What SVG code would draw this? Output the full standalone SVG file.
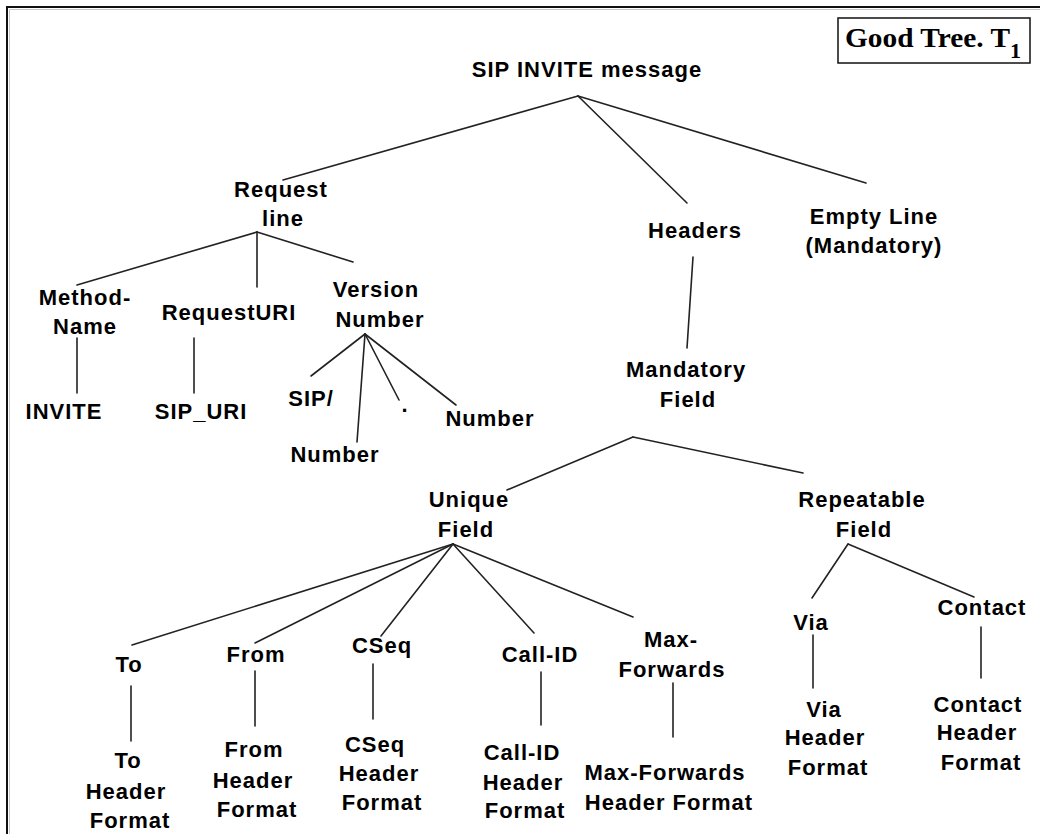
<svg xmlns="http://www.w3.org/2000/svg" width="1040" height="834" viewBox="0 0 1040 834">
  <style>
    .t { font-family: "Liberation Sans", Arial, sans-serif; font-weight: bold; font-size: 22px; letter-spacing: 1px; text-anchor: middle; fill: #000; }
    .e { stroke: #222; stroke-width: 1.6; fill: none; stroke-linecap: round; }
    .frame { stroke: #111; stroke-width: 2; fill: none; }
    .title { font-family: "Liberation Serif", "Times New Roman", serif; font-weight: bold; fill: #000; }
  </style>
  <rect width="1040" height="834" fill="#fff"/>

  <!-- outer frame: top and left edges only -->
  <g id="frame">
    <polyline class="frame" points="7,834 7,7 1040,7"/>
    <polyline points="9.5,834 9.5,9.5 1040,9.5" stroke="#c8c8c8" stroke-width="1" fill="none"/>
  </g>

  <!-- caption box -->
  <g id="caption">
    <rect x="838" y="18" width="192" height="45" fill="none" stroke="#111" stroke-width="1.5"/>
    <text class="title" x="845" y="47" font-size="28" textLength="165" lengthAdjust="spacingAndGlyphs">Good Tree. T</text>
    <text class="title" x="1010" y="58" font-size="22">1</text>
  </g>

  <!-- tree edges -->
  <g id="connectors">
    <line class="e" x1="578" y1="96" x2="283" y2="180"/>
    <line class="e" x1="578" y1="96" x2="687" y2="203"/>
    <line class="e" x1="578" y1="96" x2="866" y2="183"/>

    <line class="e" x1="257" y1="232" x2="77" y2="285"/>
    <line class="e" x1="257" y1="232" x2="257" y2="287"/>
    <line class="e" x1="257" y1="232" x2="353" y2="262"/>

    <line class="e" x1="77" y1="338" x2="77" y2="393"/>
    <line class="e" x1="194" y1="338" x2="194" y2="393"/>

    <line class="e" x1="365" y1="334" x2="311" y2="376"/>
    <line class="e" x1="365" y1="334" x2="357" y2="442"/>
    <line class="e" x1="365" y1="334" x2="399" y2="400"/>
    <line class="e" x1="365" y1="334" x2="456" y2="405"/>

    <line class="e" x1="693" y1="257" x2="687" y2="348"/>

    <line class="e" x1="633" y1="437" x2="507" y2="490"/>
    <line class="e" x1="633" y1="437" x2="803" y2="473"/>

    <line class="e" x1="453" y1="544" x2="132" y2="645"/>
    <line class="e" x1="453" y1="544" x2="255" y2="643"/>
    <line class="e" x1="453" y1="544" x2="381" y2="636"/>
    <line class="e" x1="453" y1="544" x2="534" y2="633"/>
    <line class="e" x1="453" y1="544" x2="633" y2="617"/>

    <line class="e" x1="848" y1="544" x2="812" y2="598"/>
    <line class="e" x1="848" y1="544" x2="974" y2="597"/>

    <line class="e" x1="131" y1="686" x2="131" y2="741"/>
    <line class="e" x1="255" y1="671" x2="255" y2="726"/>
    <line class="e" x1="373" y1="664" x2="373" y2="719"/>
    <line class="e" x1="541" y1="672" x2="541" y2="725"/>
    <line class="e" x1="673" y1="683" x2="673" y2="737"/>
    <line class="e" x1="813" y1="635" x2="813" y2="688"/>
    <line class="e" x1="981" y1="627" x2="981" y2="678"/>
  </g>

  <!-- nodes -->
  <g id="sip-invite"><text class="t" x="587" y="77">SIP INVITE message</text></g>
  <g id="request-line"><text class="t" x="281" y="197">Request</text><text class="t" x="283" y="226">line</text></g>
  <g id="headers"><text class="t" x="695" y="238">Headers</text></g>
  <g id="empty-line"><text class="t" x="874" y="224">Empty Line</text><text class="t" x="874" y="253">(Mandatory)</text></g>

  <g id="method-name"><text class="t" x="85" y="305">Method-</text><text class="t" x="85" y="334">Name</text></g>
  <g id="request-uri"><text class="t" x="229" y="320">RequestURI</text></g>
  <g id="version-number"><text class="t" x="376" y="297">Version</text><text class="t" x="380" y="327">Number</text></g>

  <g id="invite"><text class="t" x="64" y="419">INVITE</text></g>
  <g id="sip-uri"><text class="t" x="201" y="419">SIP_URI</text></g>
  <g id="sip-slash"><text class="t" x="311" y="406">SIP/</text></g>
  <g id="major-number"><text class="t" x="335" y="462">Number</text></g>
  <g id="dot"><text class="t" x="405" y="412">.</text></g>
  <g id="minor-number"><text class="t" x="490" y="426">Number</text></g>

  <g id="mandatory-field"><text class="t" x="686" y="377">Mandatory</text><text class="t" x="688" y="407">Field</text></g>
  <g id="unique-field"><text class="t" x="469" y="507">Unique</text><text class="t" x="466" y="537">Field</text></g>
  <g id="repeatable-field"><text class="t" x="862" y="507">Repeatable</text><text class="t" x="864" y="537">Field</text></g>

  <g id="to"><text class="t" x="129" y="672">To</text></g>
  <g id="from"><text class="t" x="256" y="662">From</text></g>
  <g id="cseq"><text class="t" x="382" y="653">CSeq</text></g>
  <g id="call-id"><text class="t" x="540" y="662">Call-ID</text></g>
  <g id="max-forwards"><text class="t" x="671" y="647">Max-</text><text class="t" x="672" y="677">Forwards</text></g>
  <g id="via"><text class="t" x="811" y="630">Via</text></g>
  <g id="contact"><text class="t" x="982" y="615">Contact</text></g>

  <g id="to-format"><text class="t" x="128" y="768">To</text><text class="t" x="126" y="799">Header</text><text class="t" x="130" y="828">Format</text></g>
  <g id="from-format"><text class="t" x="254" y="757">From</text><text class="t" x="253" y="788">Header</text><text class="t" x="257" y="817">Format</text></g>
  <g id="cseq-format"><text class="t" x="375" y="752">CSeq</text><text class="t" x="379" y="781">Header</text><text class="t" x="382" y="810">Format</text></g>
  <g id="call-id-format"><text class="t" x="522" y="760">Call-ID</text><text class="t" x="523" y="790">Header</text><text class="t" x="525" y="818">Format</text></g>
  <g id="max-forwards-format"><text class="t" x="665" y="780">Max-Forwards</text><text class="t" x="669" y="810">Header Format</text></g>
  <g id="via-format"><text class="t" x="824" y="717">Via</text><text class="t" x="825" y="745">Header</text><text class="t" x="828" y="775">Format</text></g>
  <g id="contact-format"><text class="t" x="978" y="712">Contact</text><text class="t" x="977" y="740">Header</text><text class="t" x="981" y="770">Format</text></g>
</svg>
